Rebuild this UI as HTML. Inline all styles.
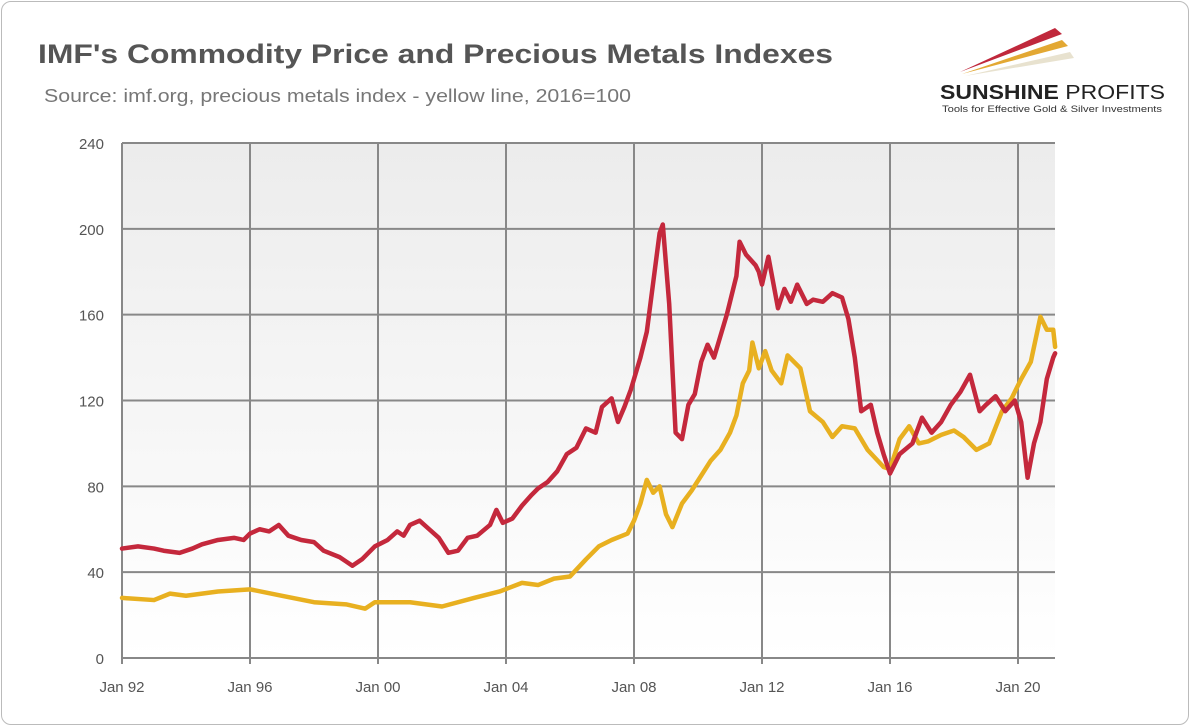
<!DOCTYPE html>
<html><head><meta charset="utf-8"><style>
body{margin:0;width:1190px;height:726px;background:#fff;font-family:"Liberation Sans",sans-serif;overflow:hidden}
#card{position:absolute;left:1px;top:1px;width:1186px;height:722px;border:1px solid #bbb;border-radius:10px;background:#fff}
</style></head><body>
<div id="card"></div>
<svg id="chart" width="1190" height="726" style="position:absolute;left:0;top:0">
<defs><linearGradient id="bg" x1="0" y1="0" x2="0" y2="1"><stop offset="0" stop-color="#ececec"/><stop offset="1" stop-color="#ffffff"/></linearGradient></defs>
<text x="38" y="63" font-size="27" font-weight="bold" fill="#555" textLength="795" lengthAdjust="spacingAndGlyphs">IMF's Commodity Price and Precious Metals Indexes</text>
<text x="44" y="102" font-size="18" fill="#777" textLength="587" lengthAdjust="spacingAndGlyphs">Source: imf.org, precious metals index - yellow line, 2016=100</text>
<g>
<polygon points="960,72 1055,28 1062,34" fill="#c0283c"/>
<polygon points="962,74 1062,40 1068,46" fill="#e3a833"/>
<polygon points="965,76 1070,52 1074,58" fill="#e8e2cf"/>
<text x="940" y="99" font-size="20" font-weight="bold" fill="#222" textLength="225" lengthAdjust="spacingAndGlyphs">SUNSHINE <tspan font-weight="normal">PROFITS</tspan></text>
<text x="942" y="112" font-size="9" fill="#333" textLength="220" lengthAdjust="spacingAndGlyphs">Tools for Effective Gold &amp; Silver Investments</text>
</g>
<rect x="122" y="143" width="933" height="515" fill="url(#bg)"/>
<g id="grid"></g><g id="series"></g><g id="labels"></g>
</svg>
<script>
const yTicks=[0,40,80,120,160,200,240];
const xTickYears=[1992,1996,2000,2004,2008,2012,2016,2020];
const xTickLabels=["Jan 92","Jan 96","Jan 00","Jan 04","Jan 08","Jan 12","Jan 16","Jan 20"];
const commodityDates=[1992.0,1992.5,1993.0,1993.3,1993.8,1994.2,1994.5,1995.0,1995.5,1995.8,1996.0,1996.3,1996.6,1996.9,1997.2,1997.6,1998.0,1998.3,1998.8,1999.0,1999.2,1999.5,1999.9,2000.3,2000.6,2000.8,2001.0,2001.3,2001.6,2001.9,2002.2,2002.5,2002.8,2003.1,2003.5,2003.7,2003.9,2004.2,2004.5,2004.8,2005.0,2005.3,2005.6,2005.9,2006.2,2006.5,2006.8,2007.0,2007.3,2007.5,2007.7,2007.9,2008.2,2008.4,2008.6,2008.8,2008.9,2009.1,2009.3,2009.5,2009.7,2009.9,2010.1,2010.3,2010.5,2010.7,2010.9,2011.2,2011.3,2011.5,2011.8,2011.9,2012.0,2012.2,2012.5,2012.7,2012.9,2013.1,2013.4,2013.6,2013.9,2014.2,2014.5,2014.7,2014.9,2015.1,2015.4,2015.6,2015.8,2016.0,2016.3,2016.7,2017.0,2017.3,2017.6,2017.9,2018.2,2018.5,2018.8,2019.0,2019.3,2019.6,2019.9,2020.1,2020.3,2020.5,2020.7,2020.9,2021.1,2021.16];
const commodityValues=[51,52,51,50,49,51,53,55,56,55,58,60,59,62,57,55,54,50,47,45,43,46,52,55,59,57,62,64,60,56,49,50,56,57,62,69,63,65,71,76,79,82,87,95,98,107,105,117,121,110,117,125,140,152,175,198,202,165,105,102,118,123,138,146,140,150,160,178,194,188,183,180,174,187,163,172,166,174,165,167,166,170,168,158,140,115,118,105,95,86,95,100,112,105,110,118,124,132,115,118,122,115,120,110,84,100,110,130,140,142];
const metalsDates=[1992.0,1993.0,1993.5,1994.0,1995.0,1996.0,1997.0,1998.0,1999.0,1999.6,1999.9,2001.0,2002.0,2003.0,2003.8,2004.5,2005.0,2005.5,2006.0,2006.5,2006.9,2007.3,2007.8,2008.0,2008.2,2008.4,2008.6,2008.8,2009.0,2009.2,2009.5,2009.8,2010.1,2010.4,2010.7,2011.0,2011.2,2011.4,2011.6,2011.7,2011.9,2012.1,2012.3,2012.6,2012.8,2013.2,2013.5,2013.9,2014.2,2014.5,2014.9,2015.3,2015.8,2016.0,2016.3,2016.6,2016.9,2017.2,2017.6,2018.0,2018.3,2018.7,2019.1,2019.5,2019.8,2020.1,2020.4,2020.7,2020.9,2021.1,2021.16];
const metalsValues=[28,27,30,29,31,32,29,26,25,23,26,26,24,28,31,35,34,37,38,46,52,55,58,64,72,83,77,80,67,61,72,78,85,92,97,105,113,128,134,147,135,143,134,128,141,135,115,110,103,108,107,97,89,88,102,108,100,101,104,106,103,97,100,115,121,130,138,159,153,153,145];
const NS="http://www.w3.org/2000/svg";
const X0=122,X1=1055,Y0=658,Y1=143;
const xs=t=>X0+(t-1992)*32;
const ys=v=>Y0-(v/240)*(Y0-Y1);
function mk(tag,attrs,parent){const e=document.createElementNS(NS,tag);for(const k in attrs)e.setAttribute(k,attrs[k]);document.getElementById(parent).appendChild(e);return e;}
yTicks.forEach(v=>{
  const l=mk('line',{x1:X0,x2:X1,y1:ys(v),y2:ys(v),stroke:'#888','stroke-width':2},'grid');
  
  
  const t=mk('text',{x:104,y:ys(v)+6,'text-anchor':'end','font-size':15,fill:'#555'},'labels');
  t.textContent=v;
  
  
});
xTickYears.forEach((yr,i)=>{
  const l=mk('line',{x1:xs(yr),x2:xs(yr),y1:Y1,y2:Y0+6,stroke:'#888','stroke-width':2},'grid');
  
  
  const t=mk('text',{x:xs(yr),y:692,'text-anchor':'middle','font-size':15,fill:'#555'},'labels');
  t.textContent=xTickLabels[i];
  
  
});
function line(d,v,color,name){
  const p=mk('polyline',{points:d.map((t,i)=>xs(t)+','+ys(v[i])).join(' '),fill:'none',stroke:color,'stroke-width':4.5,'stroke-linejoin':'round','stroke-linecap':'round'},'series');
  
  
}
line(metalsDates,metalsValues,'#e8b020','precious-metals-line');
line(commodityDates,commodityValues,'#c4283c','commodity-price-line');
</script>
</body></html>
